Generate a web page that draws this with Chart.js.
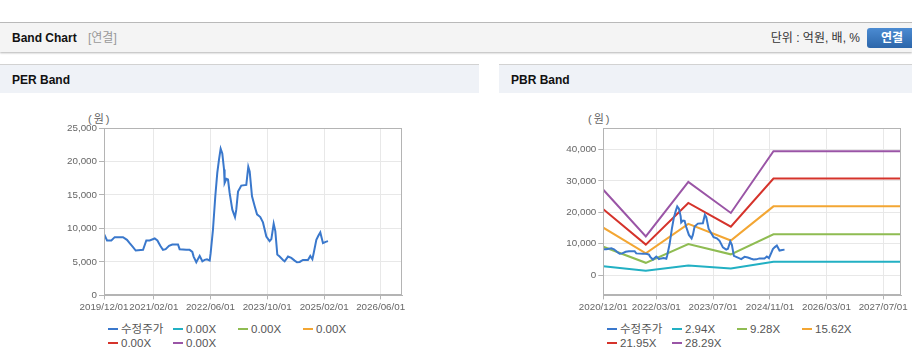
<!DOCTYPE html>
<html>
<head>
<meta charset="utf-8">
<script src="https://cdn.jsdelivr.net/npm/chart.js@4.4.1/dist/chart.umd.min.js"></script>
<style>
body{margin:0;width:912px;height:364px;overflow:hidden;background:#fff;position:relative;
  font-family:"Liberation Sans",Arial,"Noto Sans CJK KR",sans-serif;}
.topline{position:absolute;left:0;top:22px;width:912px;height:1px;background:#bdbdbd}
.head{position:absolute;left:0;top:23px;width:912px;height:29px;background:#f4f4f4;box-shadow:0 1px 2px rgba(0,0,0,.3)}
.head b{position:absolute;left:12px;top:0;line-height:30px;font-size:12px;color:#111}
.head .sub{position:absolute;left:88px;top:0;line-height:30px;font-size:12px;color:#999}
.head .unit{position:absolute;right:52px;top:0;line-height:31px;font-size:12px;color:#333}
.head .btn{position:absolute;left:867px;top:5px;width:50px;height:20px;line-height:20px;border-radius:3px;
  background:linear-gradient(#4b8bd2,#2c66aa);color:#fff;font-weight:bold;font-size:12px;text-align:center}
.panel{position:absolute;top:64px;height:28px;border-top:1px solid #d2d2d2;background:#eff2f7}
.panel div{position:absolute;left:12px;top:0;line-height:30px;font-size:12px;font-weight:bold;color:#111}
.unitlbl{position:absolute;top:110px;font-size:11px;color:#666;letter-spacing:2px}
canvas{position:absolute}
.legend{position:absolute;top:323px;display:grid;grid-template-columns:repeat(4,65px);font-size:11.5px;color:#555;line-height:13.5px}
.legend span i{display:inline-block;width:10px;height:2px;vertical-align:middle;margin:0 3px 1px 0}
</style>
</head>
<body>
<div class="topline"></div>
<div class="head"><b>Band Chart</b><span class="sub">[연결]</span><span class="unit">단위 : 억원, 배, %</span><span class="btn">연결</span></div>
<div class="panel" style="left:0;width:479px"><div>PER Band</div></div>
<div class="panel" style="left:499px;width:413px"><div>PBR Band</div></div>
<div class="unitlbl" style="left:88px">(원)</div>
<div class="unitlbl" style="left:588px">(원)</div>
<canvas id="perChart" width="480" height="230" style="left:0;top:93px"></canvas>
<canvas id="pbrChart" width="412" height="230" style="left:500px;top:93px"></canvas>
<div id="perLegend" class="legend" style="left:108px"></div>
<div id="pbrLegend" class="legend" style="left:607px"></div>
<script>
// 수정주가
var priceDates = ['2019/12/01','2019/12/27','2020/02/02','2020/03/02','2020/05/12','2020/06/15','2020/07/08','2020/08/06',
  '2020/08/29','2020/10/31','2020/11/28','2020/12/27','2021/02/08','2021/03/03','2021/03/28','2021/04/20','2021/05/13',
  '2021/06/11','2021/07/09','2021/08/27','2021/09/10','2021/11/06','2021/12/05','2021/12/28','2022/01/08','2022/01/31',
  '2022/03/01','2022/03/24','2022/04/13','2022/05/03','2022/05/26','2022/06/03','2022/06/23','2022/07/13','2022/07/30',
  '2022/08/14','2022/08/28','2022/09/11','2022/09/26','2022/10/01','2022/10/16','2022/10/30','2022/11/13','2022/12/06',
  '2022/12/29','2023/01/09','2023/01/24','2023/02/21','2023/04/05','2023/04/22','2023/05/04','2023/05/24','2023/06/16',
  '2023/07/06','2023/08/03','2023/08/26','2023/09/24','2023/10/22','2023/11/06','2023/11/26','2023/12/10','2023/12/27',
  '2024/01/16','2024/02/14','2024/02/28','2024/03/28','2024/04/25','2024/05/24','2024/06/13','2024/07/06','2024/08/03',
  '2024/09/15','2024/10/05','2024/10/23','2024/11/03','2024/11/26','2024/12/13','2024/12/30','2025/01/22','2025/02/14',
  '2025/03/06'];
var priceValues = [9200,8200,8200,8700,8700,8300,7800,7200,
  6700,6800,8200,8200,8500,8200,7400,6800,6900,
  7400,7600,7600,6900,6800,6800,6500,5800,4950,
  5900,5100,5300,5400,5200,6300,9800,14800,18300,
  20300,21900,21200,18800,16800,17400,17300,15300,12800,
  11700,12800,15500,16400,16500,19200,18500,14800,13300,
  12100,11700,10900,8800,8100,8400,10700,9600,6100,
  5800,5300,5100,5800,5600,5200,4950,5000,5300,
  5300,5900,5400,6300,8300,8900,9400,7800,8000,
  8100];

// PER Band
var perBandLabels = ['0.00X','0.00X','0.00X','0.00X','0.00X'];
var perXTicks = ['2019/12/01','2021/02/01','2022/06/01','2023/10/01','2025/02/01','2026/06/01'];
var perXRange = ['2019/12/01','2026/12/01'];
var perYTicks = [0,5000,10000,15000,20000,25000];

// PBR Band
var pbrBandLabels = ['2.94X','9.28X','15.62X','21.95X','28.29X'];
var bandDates = ['2020/12/01','2021/12/01','2022/12/01','2023/12/01','2024/12/01','2027/12/01'];
var band294 = [2800,1400,3000,2100,4200,4200];
var band928 = [9000,3900,9900,6600,13000,13000];
var band1562 = [15100,6900,16300,11000,21900,21900];
var band2195 = [21000,9700,23000,15400,30800,30800];
var band2829 = [27200,12300,29700,19800,39500,39500];
var pbrXTicks = ['2020/12/01','2022/03/01','2023/07/01','2024/11/01','2026/03/01','2027/07/01'];
var pbrXRange = ['2020/12/01','2027/12/01'];
var pbrYTicks = [0,10000,20000,30000,40000];
var pbrYRange = [-6500,46900];

var priceColor = '#3a78cc';
var bandColors = ['#22b0c3','#8fbc52','#f3a633','#d5332b','#9a55a6'];

function day(s){ var p = s.split('/'); return Date.UTC(+p[0], +p[1]-1, +p[2]) / 86400000; }
function fmtDay(v){
  var d = new Date(v * 86400000);
  var m = d.getUTCMonth()+1, dd = d.getUTCDate();
  return d.getUTCFullYear() + '/' + (m<10?'0':'') + m + '/' + (dd<10?'0':'') + dd;
}
function pts(dates, vals){ return dates.map(function(d,i){ return {x: day(d), y: vals[i]}; }); }

var frame = {
  id: 'frame',
  afterDraw: function(c){
    var a = c.chartArea, ctx = c.ctx;
    ctx.save();
    ctx.strokeStyle = '#b4b4b4';
    ctx.lineWidth = 1;
    ctx.strokeRect(Math.round(a.left)+0.5, Math.round(a.top)+0.5, Math.round(a.right-a.left)-1, Math.round(a.bottom-a.top)-1);
    ctx.restore();
  }
};

var tickFont = {family: '"Liberation Sans", Arial, sans-serif', size: 9.8};

function makeChart(id, datasets, xTicks, xRange, yTicks, yMin, yMax, axisW, padRight){
  return new Chart(document.getElementById(id), {
    type: 'line',
    data: {datasets: datasets},
    options: {
      responsive: false,
      animation: false,
      devicePixelRatio: 1,
      layout: {padding: {top: 35, right: padRight, left: 0, bottom: 0}},
      elements: {point: {radius: 0}, line: {borderWidth: 2, tension: 0}},
      plugins: {legend: {display: false}, tooltip: {enabled: false}},
      scales: {
        x: {
          type: 'linear',
          min: day(xRange[0]), max: day(xRange[1]),
          afterBuildTicks: function(s){ s.ticks = xTicks.map(function(t){ return {value: day(t)}; }); },
          afterFit: function(s){ s.height = 27.6; },
          grid: {color: '#e8e8e8', tickColor: '#b4b4b4', tickLength: 4},
          border: {color: '#b4b4b4'},
          ticks: {color: '#666', font: tickFont, padding: 2, maxRotation: 0, autoSkip: false,
            callback: function(v){ return fmtDay(v); }}
        },
        y: {
          min: yMin, max: yMax,
          afterBuildTicks: function(s){ s.ticks = yTicks.map(function(t){ return {value: t}; }); },
          afterFit: function(s){ s.width = axisW; },
          grid: {color: '#e8e8e8', tickColor: '#b4b4b4', tickLength: 5},
          border: {color: '#b4b4b4'},
          ticks: {color: '#666', font: tickFont, padding: 2,
            callback: function(v){ return v.toLocaleString('en-US'); }}
        }
      }
    },
    plugins: [frame]
  });
}

function htmlLegend(chart, id){
  var box = document.getElementById(id);
  chart.data.datasets.forEach(function(ds){
    var s = document.createElement('span');
    s.innerHTML = '<i style="background:' + ds.borderColor + '"></i>' + ds.label;
    box.appendChild(s);
  });
}

var perSets = [{label: '수정주가', data: pts(priceDates, priceValues), borderColor: priceColor}];
perBandLabels.forEach(function(l, i){ perSets.push({label: l, data: [], borderColor: bandColors[i]}); });
var perChart = makeChart('perChart', perSets, perXTicks, perXRange, perYTicks, 0, 25000, 104, 78);
htmlLegend(perChart, 'perLegend');

var pbrBands = [band294, band928, band1562, band2195, band2829];
var pbrSets = [{label: '수정주가', data: pts(priceDates, priceValues), borderColor: priceColor}];
pbrBands.forEach(function(b, i){ pbrSets.push({label: pbrBandLabels[i], data: pts(bandDates, b), borderColor: bandColors[i]}); });
var pbrChart = makeChart('pbrChart', pbrSets, pbrXTicks, pbrXRange, pbrYTicks, pbrYRange[0], pbrYRange[1], 103.3, 11);
htmlLegend(pbrChart, 'pbrLegend');
</script>
</body>
</html>
